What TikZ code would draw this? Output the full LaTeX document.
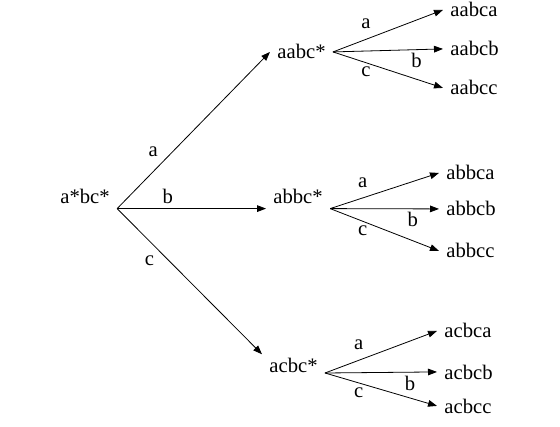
\documentclass[tikz,border=0pt]{standalone}
\usepackage{fontspec}
\setmainfont{Liberation Serif}
\usetikzlibrary{arrows.meta,positioning}

\begin{document}
\begin{tikzpicture}[x=0.75pt,y=-0.75pt,line width=0.6pt,
    >={Triangle[length=6.75pt,width=5pt]},
    every node/.style={font=\fontsize{15.5}{18}\selectfont},
    word/.style={inner xsep=5.25pt,inner ysep=3pt,anchor=base west},
    lbl/.style={inner sep=1.5pt}]
   \useasboundingbox (0,0) rectangle (560,427);

   \node[word] (abc)  at (53,204)  {a*bc*};

   \node[word] (aabc) at (270,59)  {aabc*};
   \node[word] (abbc) at (266,204) {abbc*};
   \node[word] (acbc) at (262,373) {acbc*};

   \node[word] (aabca) at (443,17)  {aabca};
   \node[word] (aabcb) at (443,56)  {aabcb};
   \node[word] (aabcc) at (443,95)  {aabcc};
   \node[word] (abbca) at (439,180) {abbca};
   \node[word] (abbcb) at (439,216) {abbcb};
   \node[word] (abbcc) at (439,258) {abbcc};
   \node[word] (acbca) at (437,338) {acbca};
   \node[word] (acbcb) at (437,379) {acbcb};
   \node[word] (acbcc) at (437,413) {acbcc};

    \path[->]
    (abc.south east) edge node[lbl,pos=.3,above left=3pt] {a} (aabc.west)
                     edge node[lbl,pos=.34,above=2pt] {b} (abbc.south west)
                     edge node[lbl,pos=.29,below left=3pt] {c} (acbc.north west)
    (aabc.east) edge node[lbl,pos=.3,above=6pt] {a} (aabca.west)
                edge node[lbl,pos=.76,below=1pt] {b} (aabcb.west)
                edge node[lbl,pos=.3,below=1.5pt] {c} (aabcc.west)
    (abbc.south east) edge node[lbl,pos=.3,above=6pt] {a} (abbca.west)
                      edge node[lbl,pos=.76,below=1pt] {b} (abbcb.west)
                      edge node[lbl,pos=.3,below=1.5pt] {c} (abbcc.west)
    (acbc.base east) edge node[lbl,pos=.3,above=6pt] {a} (acbca.west)
                     edge node[lbl,pos=.76,below=1pt] {b} (acbcb.west)
                     edge node[lbl,pos=.3,below=1.5pt] {c} (acbcc.west);
\end{tikzpicture}
\end{document}
